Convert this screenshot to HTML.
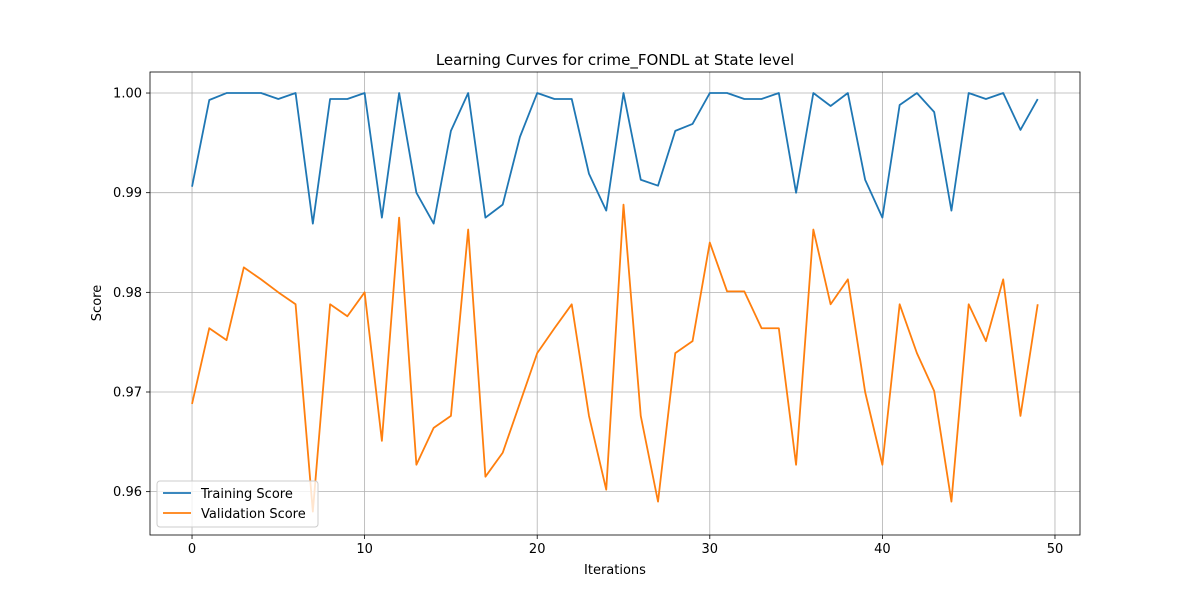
<!DOCTYPE html>
<html><head><meta charset="utf-8"><style>
html,body{margin:0;padding:0;background:#fff;width:1200px;height:600px;overflow:hidden}
svg{font-family:"DejaVu Sans","Liberation Sans",sans-serif}
</style></head><body>
<svg id="chart" width="1200" height="600"></svg>
<script>
const iterations = Array.from({length:50},(_,i)=>i);
const trainingScores = [.9906,.9993,1,1,1,.9994,1,.9869,.9994,.9994,1,.9875,1,.990,.9869,.9962,1,.9875,.9888,.9956,1,.9994,.9994,.9919,.9882,1,.9913,.9907,.9962,.9969,1,1,.9994,.9994,1,.990,1,.9987,1,.9913,.9875,.9988,1,.9981,.9882,1,.9994,1,.9963,.9994];
const validationScores = [.9688,.9764,.9752,.9825,.9813,.9800,.9788,.958,.9788,.9776,.9800,.9651,.9875,.9627,.9664,.9676,.9863,.9615,.9639,.9689,.9739,.9764,.9788,.9676,.9602,.9888,.9676,.959,.9739,.9751,.9850,.9801,.9801,.9764,.9764,.9627,.9863,.9788,.9813,.9700,.9627,.9788,.9739,.9701,.959,.9788,.9751,.9813,.9676,.9788];
const xTicks = [0,10,20,30,40,50];
const yTicks = [0.96,0.97,0.98,0.99,1.00];
const L=150,R=1080,T=72,B=535;
const xMin=-2.435,xMax=51.45,yMin=0.95565,yMax=1.00211;
const sx=v=>L+(v-xMin)/(xMax-xMin)*(R-L);
const sy=v=>B-(v-yMin)/(yMax-yMin)*(B-T);
const NS="http://www.w3.org/2000/svg";
const svg=document.getElementById('chart');
function mk(tag,attrs,parent){const e=document.createElementNS(NS,tag);for(const k in attrs)e.setAttribute(k,attrs[k]);(parent||svg).appendChild(e);return e;}
xTicks.forEach(t=>{
  const g=mk('line',{x1:sx(t),x2:sx(t),y1:T,y2:B,stroke:'#b0b0b0','stroke-width':0.8});
  
  
  mk('line',{x1:sx(t),x2:sx(t),y1:B,y2:B+4,stroke:'#000','stroke-width':0.8});
  const tx=mk('text',{x:sx(t),y:B+18,'text-anchor':'middle','font-size':13,fill:'#000'});
  tx.textContent=t;
  
  
});
yTicks.forEach(t=>{
  const g=mk('line',{x1:L,x2:R,y1:sy(t),y2:sy(t),stroke:'#b0b0b0','stroke-width':0.8});
  
  
  mk('line',{x1:L-4,x2:L,y1:sy(t),y2:sy(t),stroke:'#000','stroke-width':0.8});
  const tx=mk('text',{x:L-8,y:sy(t)+4.5,'text-anchor':'end','font-size':13,fill:'#000'});
  tx.textContent=t.toFixed(2);
  
  
});
function series(vals,color,name){
  const p=mk('polyline',{points:vals.map((v,i)=>sx(iterations[i])+','+sy(v)).join(' '),fill:'none',stroke:color,'stroke-width':1.8,'stroke-linejoin':'round'});
  
  
}
series(trainingScores,'#1f77b4','training-score-line');
series(validationScores,'#ff7f0e','validation-score-line');
const frame=mk('rect',{x:L,y:T,width:R-L,height:B-T,fill:'none',stroke:'#000','stroke-width':0.8});


</script>
<svg width="1200" height="600" style="position:absolute;left:0;top:0">
<text x="615" y="65" text-anchor="middle" font-size="15">Learning Curves for crime_FONDL at State level</text>
<text x="615" y="574" text-anchor="middle" font-size="13">Iterations</text>
<text transform="translate(101,303) rotate(-90)" text-anchor="middle" font-size="13">Score</text>
<g>
<rect x="157" y="481" width="161" height="46" rx="3" fill="#fff" fill-opacity="0.8" stroke="#ccc"/>
<line x1="163" x2="191" y1="493" y2="493" stroke="#1f77b4" stroke-width="1.8"/>
<text x="201" y="498" font-size="13">Training Score</text>
<line x1="163" x2="191" y1="513" y2="513" stroke="#ff7f0e" stroke-width="1.8"/>
<text x="201" y="518" font-size="13">Validation Score</text>
</g>
</svg>
</body></html>
